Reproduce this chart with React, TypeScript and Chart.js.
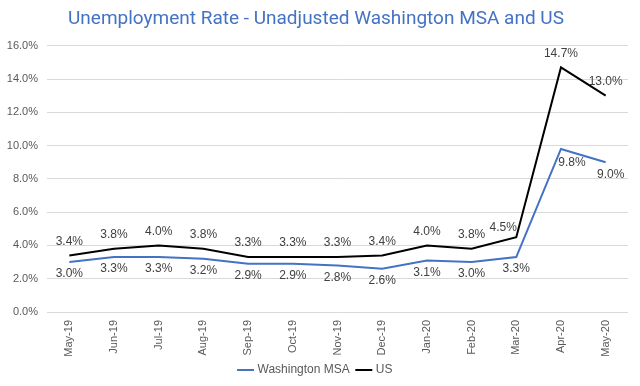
import React, { useEffect, useRef } from "react";
import { Chart, registerables } from "chart.js";

Chart.register(...registerables);

const categories = ["May-19", "Jun-19", "Jul-19", "Aug-19", "Sep-19", "Oct-19", "Nov-19", "Dec-19", "Jan-20", "Feb-20", "Mar-20", "Apr-20", "May-20"];
const washingtonMSA = [3.0, 3.3, 3.3, 3.2, 2.9, 2.9, 2.8, 2.6, 3.1, 3.0, 3.3, 9.8, 9.0];
const usRate = [3.4, 3.8, 4.0, 3.8, 3.3, 3.3, 3.3, 3.4, 4.0, 3.8, 4.5, 14.7, 13.0];
const yTicks = [0, 2, 4, 6, 8, 10, 12, 14, 16];

const FONT = "'Liberation Sans', Arial, sans-serif";
const TITLE_FONT = "Roboto, 'Liberation Sans', sans-serif";

const labelPlugin = {
  id: "pointLabels",
  afterDatasetsDraw(chart: any) {
    const ctx = chart.ctx;
    ctx.save();
    ctx.font = `12px ${FONT}`;
    ctx.fillStyle = "#404040";
    ctx.textAlign = "center";
    ctx.textBaseline = "middle";
    chart.data.datasets.forEach((ds: any, di: number) => {
      const meta = chart.getDatasetMeta(di);
      meta.data.forEach((pt: any, i: number) => {
        const v = ds.data[i];
        let dx = 0;
        let dy = ds.labelAbove ? -14 : 12;
        if (!ds.labelAbove && i === 11) { dx = 11; dy = 14; }
        if (!ds.labelAbove && i === 12) dx = 5;
        if (ds.labelAbove && i === 10) { dx = -13; dy = -9; }
        ctx.fillText(v.toFixed(1) + "%", pt.x + dx, pt.y + dy);
      });
    });
    ctx.restore();
  },
};

export default function App() {
  const ref = useRef<HTMLCanvasElement>(null);
  useEffect(() => {
    document.body.style.margin = "0";
    const chart = new Chart(ref.current!, {
      type: "line",
      data: {
        labels: categories,
        datasets: [
          {
            label: "Washington MSA",
            data: washingtonMSA,
            borderColor: "#4472C4",
            backgroundColor: "#4472C4",
            borderWidth: 2,
            pointRadius: 0,
            tension: 0,
            labelAbove: false,
          } as any,
          {
            label: "US",
            data: usRate,
            borderColor: "#000000",
            backgroundColor: "#000000",
            borderWidth: 2,
            pointRadius: 0,
            tension: 0,
            labelAbove: true,
          } as any,
        ],
      },
      options: {
        animation: false,
        responsive: false,
        maintainAspectRatio: false,
        layout: { padding: { left: 4, right: 12, top: 0, bottom: 0 } },
        plugins: {
          title: {
            display: true,
            text: "Unemployment Rate - Unadjusted Washington MSA and US",
            color: "#4472C4",
            font: { family: TITLE_FONT, size: 19, weight: "normal" },
            padding: { top: 8, bottom: 15 },
          },
          legend: {
            position: "bottom",
            labels: {
              color: "#595959",
              font: { family: FONT, size: 12 },
              usePointStyle: true,
              pointStyle: "line",
              boxWidth: 22,
              padding: 8,
            },
          },
          tooltip: { enabled: false },
        },
        scales: {
          x: {
            offset: true,
            grid: { display: false },
            border: { display: false },
            ticks: {
              color: "#595959",
              font: { family: FONT, size: 11 },
              maxRotation: 90,
              minRotation: 90,
              padding: 0,
            },
            afterFit: (axis: any) => {
              axis.height = 44;
            },
          },
          y: {
            min: 0,
            max: 16,
            afterBuildTicks: (axis: any) => {
              axis.ticks = yTicks.map((v) => ({ value: v }));
            },
            grid: { color: "#d9d9d9", lineWidth: 1, drawTicks: false },
            border: { display: false },
            ticks: {
              color: "#595959",
              font: { family: FONT, size: 11 },
              padding: 9,
              callback: (v: any) => Number(v).toFixed(1) + "%",
            },
            afterFit: (axis: any) => {
              axis.width = 43;
            },
          },
        },
      },
      plugins: [labelPlugin],
    } as any);
    return () => chart.destroy();
  }, []);
  return (
    <div style={{ position: "absolute", left: 0, top: 0, width: 640, height: 386 }}>
      <canvas ref={ref} width={640} height={386} />
    </div>
  );
}
